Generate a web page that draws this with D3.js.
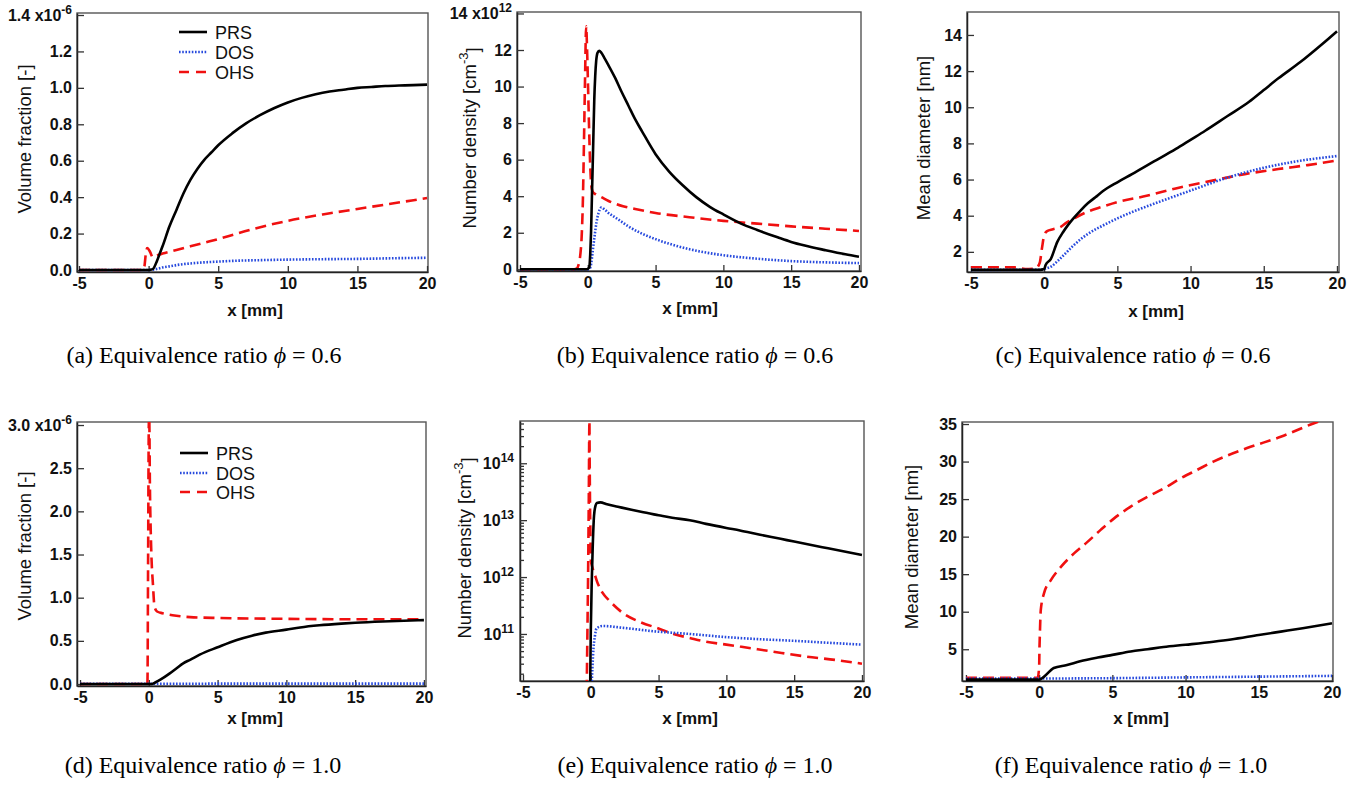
<!DOCTYPE html>
<html><head><meta charset="utf-8">
<script src="https://cdn.jsdelivr.net/npm/d3@7"></script>
<style>body{margin:0;background:#fff}svg{display:block}</style>
</head><body><svg id="c" width="1367" height="785"></svg>
<script>
// ---------------- data ----------------
const seriesNames = ["PRS", "DOS", "OHS"];
const xTicks = [-5, 0, 5, 10, 15, 20];

// (a) volume fraction, phi = 0.6  (x1e-6)
const a_PRS = [[-5,0],[0,0],[0.3,0.005],[0.6,0.05],[0.8,0.09],[1.0,0.13],[1.5,0.24],[2,0.33],[2.5,0.42],[3,0.495],[3.5,0.555],[4,0.605],[4.5,0.645],[5,0.685],[6,0.75],[7,0.805],[8,0.85],[9,0.888],[10,0.92],[11,0.945],[12,0.965],[13,0.98],[14,0.99],[15,1.0],[16,1.005],[17,1.01],[18,1.013],[19,1.015],[20,1.018]];
const a_DOS = [[-5,0],[0,0],[0.3,0.002],[0.7,0.008],[1,0.014],[1.5,0.02],[2,0.027],[3,0.036],[4,0.042],[5,0.046],[6,0.05],[8,0.054],[10,0.057],[12,0.059],[15,0.061],[18,0.065],[20,0.067]];
const a_OHS = [[-5,0],[-0.4,0],[-0.3,0.02],[-0.2,0.09],[-0.1,0.12],[0.1,0.1],[0.3,0.07],[0.6,0.08],[1,0.09],[2,0.11],[3,0.13],[4,0.15],[5,0.17],[7.5,0.225],[10,0.27],[12.5,0.305],[15,0.335],[17.5,0.365],[20,0.395]];
const a_yTicks = [0, 0.2, 0.4, 0.6, 0.8, 1.0, 1.2, 1.4];

// (b) number density, phi = 0.6 (x1e12 cm^-3)
const b_PRS = [[-5,0],[-0.1,0],[0.05,0.05],[0.12,0.15],[0.18,0.8],[0.24,2.0],[0.3,3.8],[0.36,5.6],[0.42,7.5],[0.48,9.3],[0.55,10.6],[0.62,11.4],[0.72,11.85],[0.84,11.96],[1.0,11.85],[1.2,11.6],[1.5,11.2],[2,10.5],[2.5,9.7],[3,8.95],[3.5,8.2],[4,7.55],[5,6.3],[6,5.35],[7,4.6],[8,3.95],[9,3.42],[10,3.0],[11.3,2.5],[12.5,2.15],[14,1.75],[15,1.5],[16,1.3],[17.5,1.05],[19,0.82],[20,0.69]];
const b_DOS = [[-5,0],[0.05,0],[0.15,0.05],[0.25,0.3],[0.35,0.9],[0.5,1.8],[0.65,2.6],[0.8,3.1],[1.0,3.38],[1.2,3.3],[1.5,3.1],[2,2.85],[2.5,2.6],[3,2.35],[4,1.95],[5,1.65],[6,1.4],[7.5,1.1],[9,0.88],[10,0.77],[12.5,0.58],[15,0.45],[17.5,0.38],[20,0.34]];
const b_OHS = [[-5,0],[-1,0],[-0.8,0.05],[-0.7,0.2],[-0.55,0.8],[-0.45,1.8],[-0.36,3.8],[-0.28,7],[-0.2,10.5],[-0.12,13.3],[-0.05,12],[0.02,10],[0.08,8.2],[0.15,6.3],[0.22,5.0],[0.3,4.4],[0.4,4.2],[0.6,4.1],[1,3.95],[1.5,3.75],[2,3.6],[2.6,3.45],[3.5,3.3],[5,3.08],[7.5,2.85],[10,2.65],[12.5,2.5],[15,2.35],[17.5,2.22],[20,2.1]];
const b_yTicks = [0, 2, 4, 6, 8, 10, 12, 14];

// (c) mean diameter, phi = 0.6 (nm)
const c_PRS = [[-5,1.0],[-0.3,1.0],[0,1.05],[0.1,1.27],[0.45,1.6],[0.9,2.55],[1.3,3.1],[1.6,3.45],[2,3.85],[2.5,4.3],[3,4.7],[3.5,5.02],[4,5.35],[5,5.85],[6,6.3],[7.5,7.0],[9,7.7],[10,8.2],[11,8.7],[12.5,9.5],[14,10.3],[15,10.95],[16,11.6],[17.5,12.5],[19,13.5],[20,14.2]];
const c_DOS = [[-5,1.0],[-0.3,1.0],[0,1.05],[0.5,1.2],[1,1.55],[1.5,1.95],[2,2.35],[2.5,2.7],[3,3.0],[4,3.45],[5,3.85],[6,4.2],[7.5,4.66],[9,5.1],[10,5.39],[12.5,6.1],[15,6.65],[17.5,7.04],[20,7.3]];
const c_OHS = [[-5,1.15],[-2,1.14],[-1.3,1.05],[-0.6,1.07],[-0.3,1.4],[-0.15,2.2],[0,2.9],[0.2,3.15],[0.6,3.25],[1.1,3.37],[1.5,3.6],[2,3.83],[2.9,4.2],[4,4.5],[5,4.75],[7,5.1],[9.2,5.55],[11.5,5.94],[13.7,6.3],[16,6.58],[18,6.8],[20,7.05]];
const c_yTicks = [2, 4, 6, 8, 10, 12, 14];

// (d) volume fraction, phi = 1.0 (x1e-6)
const d_PRS = [[-5,0],[0.2,0],[0.5,0.02],[0.84,0.05],[1.5,0.12],[2,0.18],[2.5,0.24],[3,0.28],[3.7,0.34],[5,0.425],[6.4,0.51],[7.5,0.56],[8.5,0.595],[10,0.63],[11,0.655],[12.4,0.68],[14,0.7],[15,0.71],[17,0.725],[20,0.74]];
const d_DOS = [[-5,0.003],[0,0.003],[5,0.004],[10,0.004],[15,0.004],[20,0.004]];
const d_OHS = [[-5,0],[-0.1,0],[-0.05,1.5],[0.0,3.0],[0.03,3.1],[0.08,2.3],[0.17,1.59],[0.31,1.13],[0.41,0.9],[0.6,0.84],[1,0.82],[2,0.79],[3,0.775],[5,0.765],[10,0.755],[15,0.75],[20,0.75]];
const d_yTicks = [0, 0.5, 1.0, 1.5, 2.0, 2.5, 3.0];

// (e) number density, phi = 1.0 (cm^-3, log)
const e_PRS = [[-0.05,1e10],[0.0,1.1e11],[0.07,8e11],[0.14,3.2e12],[0.24,1.2e13],[0.35,1.8e13],[0.45,2e13],[0.7,2.05e13],[1.2,1.9e13],[2,1.72e13],[3,1.52e13],[3.7,1.4e13],[5,1.22e13],[6,1.1e13],[7.3,1e13],[8.5,8.6e12],[10,7.3e12],[11,6.6e12],[12.4,5.6e12],[14,4.7e12],[15,4.2e12],[17.5,3.2e12],[20,2.45e12]];
const e_DOS = [[0.05,1e10],[0.12,2.5e10],[0.2,5.6e10],[0.3,9e10],[0.43,1.26e11],[0.9,1.38e11],[2.4,1.28e11],[4.9,1.1e11],[7.3,1e11],[10,8.8e10],[12.4,8.1e10],[14.9,7.6e10],[17.5,7e10],[20,6.5e10]];
const e_OHS = [[-0.3,1e10],[-0.25,1e11],[-0.2,1e12],[-0.15,2e13],[-0.1,5.5e14],[-0.08,1e14],[-0.06,2.4e13],[-0.03,6.3e12],[0.0,2e12],[0.15,1.4e12],[0.3,1.1e12],[0.45,8.5e11],[0.68,6.3e11],[1.0,4.8e11],[1.3,4e11],[2.4,2.3e11],[3.7,1.6e11],[5,1.25e11],[6.1,1e11],[7.3,8.5e10],[8.5,7.3e10],[10,6.5e10],[11,6e10],[13.4,4.9e10],[15.9,4e10],[18,3.5e10],[20,3e10]];
const e_yMajor = [1e11, 1e12, 1e13, 1e14];

// (f) mean diameter, phi = 1.0 (nm)
const f_PRS = [[-5,0.95],[0,0.95],[0.34,1.36],[1.0,2.5],[1.9,2.9],[2.8,3.4],[4,3.9],[5,4.25],[6.25,4.7],[7.4,5.0],[8.5,5.3],[10,5.6],[11.9,6.0],[13.1,6.3],[15,6.9],[16.5,7.35],[18,7.8],[20,8.46]];
const f_DOS = [[-5,1.1],[0,1.1],[5,1.15],[10,1.25],[15,1.35],[20,1.45]];
const f_OHS = [[-5,1.2],[-0.1,1.2],[0,2.7],[0.02,5],[0.05,7.1],[0.11,10.2],[0.34,12.5],[0.8,14.2],[1.5,16],[2.4,17.8],[3.3,19.3],[4.2,20.9],[5.1,22.4],[6.25,24],[7.4,25.3],[8.5,26.4],[9.7,27.8],[10.8,28.9],[11.9,30.0],[14.2,31.8],[16.5,33.3],[18.5,34.9],[20,36.0]];
const f_yTicks = [5, 10, 15, 20, 25, 30, 35];

const captions = ["(a) Equivalence ratio ", "(b) Equivalence ratio ", "(c) Equivalence ratio ",
                  "(d) Equivalence ratio ", "(e) Equivalence ratio ", "(f) Equivalence ratio "];
const phiValues = ["0.6", "0.6", "0.6", "1.0", "1.0", "1.0"];

// ---------------- layout / style ----------------
const styles = {
  PRS: {color: "#000", dash: null, w: 2.6},
  DOS: {color: "#2649dd", dash: "1.6,1.6", w: 2.6},
  OHS: {color: "#f01010", dash: "11,6", w: 2.6}
};
const TICKF = "Liberation Sans, Arial, Helvetica, sans-serif";
const hyphen = f => (d => f(d).replace("\u2212", "-"));

const panels = [
  {data:{PRS:a_PRS,DOS:a_DOS,OHS:a_OHS}, box:{l:77,t:13,r:428,b:272}, xd:[-5.144,20.07], yd:[-0.011,1.411], log:false, yTicks:a_yTicks, fmt:".1f", exp:"-6",
   ylab:["Volume fraction [-]"], yl:[31,139], xl:[255,316], legend:{x1:179,x2:207,ys:[32,52,72],tx:215}, cap:[204,363]},
  {data:{PRS:b_PRS,DOS:b_DOS,OHS:b_OHS}, box:{l:517,t:12,r:861,b:271}, xd:[-5.22,20.15], yd:[-0.093,14.08], log:false, yTicks:b_yTicks, fmt:"d", exp:"12",
   ylab:["Number density [cm","-3","]"], yl:[476,138], xl:[690,314], cap:[695,363]},
  {data:{PRS:c_PRS,DOS:c_DOS,OHS:c_OHS}, box:{l:967,t:12,r:1339,b:272}, xd:[-5.27,20.14], yd:[0.885,15.27], log:false, yTicks:c_yTicks, fmt:"d", exp:null,
   ylab:["Mean diameter [nm]"], yl:[930,138], xl:[1156,317], cap:[1133,363]},
  {data:{PRS:d_PRS,DOS:d_DOS,OHS:d_OHS}, box:{l:77,t:422,r:426,b:686}, xd:[-5.22,20.15], yd:[-0.023,3.035], log:false, yTicks:d_yTicks, fmt:".1f", exp:"-6",
   ylab:["Volume fraction [-]"], yl:[31,546], xl:[255,724], legend:{x1:180,x2:208,ys:[453,473,492],tx:216}, cap:[203,773]},
  {data:{PRS:e_PRS,DOS:e_DOS,OHS:e_OHS}, box:{l:520,t:421,r:864,b:681}, xd:[-5.22,20.15], yd:[1.49e10,5.53e14], log:true, yTicks:e_yMajor, fmt:null, exp:null,
   ylab:["Number density [cm","-3","]"], yl:[471,548], xl:[690,724], cap:[695,773]},
  {data:{PRS:f_PRS,DOS:f_DOS,OHS:f_OHS}, box:{l:962,t:422,r:1333,b:681}, xd:[-5.27,20.07], yd:[0.77,35.27], log:false, yTicks:f_yTicks, fmt:"d", exp:null,
   ylab:["Mean diameter [nm]"], yl:[918,547], xl:[1141,724], cap:[1131,773]}
];

const svg = d3.select("#c");

panels.forEach((p, i) => {
  const B = p.box;
  const x = d3.scaleLinear().domain(p.xd).range([B.l, B.r]);
  const y = (p.log ? d3.scaleLog() : d3.scaleLinear()).domain(p.yd).range([B.b, B.t]);
  const g = svg.append("g");

  const clipId = "clip" + i;
  svg.append("clipPath").attr("id", clipId).append("rect")
    .attr("x", B.l).attr("y", B.t).attr("width", B.r - B.l).attr("height", B.b - B.t);

  // frame
  g.append("rect").attr("x", B.l).attr("y", B.t).attr("width", B.r - B.l).attr("height", B.b - B.t)
    .attr("fill", "none").attr("stroke", "#555").attr("stroke-width", 1.4);

  // x axis
  const xa = g.append("g").attr("transform", `translate(0,${B.b})`)
    .call(d3.axisBottom(x).tickValues(xTicks).tickSize(-6).tickSizeOuter(0).tickPadding(6).tickFormat(hyphen(d3.format("d"))));
  xa.select(".domain").attr("stroke", "#222").attr("stroke-width", 1.5);
  xa.selectAll(".tick line").attr("stroke", "#333").attr("stroke-width", 1.3);
  xa.selectAll("text").attr("font-family", TICKF).attr("font-size", 16).attr("font-weight", "bold").attr("fill", "#111");

  // y axis
  let ya;
  if (p.log) {
    const all = [];
    for (let e = 10; e <= 14; e++) for (let m = 1; m <= 9; m++) {
      const v = m * Math.pow(10, e);
      if (v >= p.yd[0] && v <= p.yd[1]) all.push(v);
    }
    ya = g.append("g").attr("transform", `translate(${B.l},0)`)
      .call(d3.axisLeft(y).tickValues(all).tickSize(-7).tickSizeOuter(0).tickPadding(6).tickFormat(""));
    ya.selectAll(".tick").each(function(d) {
      const major = p.yTicks.some(v => Math.abs(v - d) / v < 1e-6);
      const t = d3.select(this);
      if (!major) t.select("line").attr("x2", 4);
      else {
        const txt = t.select("text").text(null).attr("dy", "0.32em");
        txt.append("tspan").text("10");
        txt.append("tspan").attr("dy", "-0.55em").attr("font-size", 12).text(Math.round(Math.log10(d)));
      }
    });
  } else {
    ya = g.append("g").attr("transform", `translate(${B.l},0)`)
      .call(d3.axisLeft(y).tickValues(p.yTicks).tickSize(-7).tickSizeOuter(0).tickPadding(5).tickFormat(hyphen(d3.format(p.fmt))));
    if (p.exp) {
      const top = p.yTicks[p.yTicks.length - 1];
      ya.selectAll(".tick").filter(d => d === top).select("text").each(function(d) {
        const t = d3.select(this);
        const base = t.text();
        t.text(null);
        t.append("tspan").text(base + " x10");
        t.append("tspan").attr("dy", "-0.55em").attr("font-size", 12).text(p.exp);
      });
    }
  }
  ya.select(".domain").attr("stroke", "#222").attr("stroke-width", 1.5);
  ya.selectAll(".tick line").attr("stroke", "#333").attr("stroke-width", 1.3);
  ya.selectAll("text").attr("font-family", TICKF).attr("font-size", 16).attr("font-weight", "bold").attr("fill", "#111");

  // curves
  const line = d3.line().x(d => x(d[0])).y(d => y(d[1])).curve(d3.curveMonotoneX);
  const lg = svg.append("g").attr("clip-path", `url(#${clipId})`);
  ["OHS", "DOS", "PRS"].forEach(k => {
    const s = styles[k];
    lg.append("path").datum(p.data[k]).attr("d", line)
      .attr("fill", "none").attr("stroke", s.color).attr("stroke-width", s.w)
      .attr("stroke-dasharray", s.dash).attr("stroke-linejoin", "round");
  });

  // axis titles
  svg.append("text").attr("x", p.xl[0]).attr("y", p.xl[1]).attr("text-anchor", "middle")
    .attr("font-family", TICKF).attr("font-size", 17).attr("font-weight", "bold").attr("fill", "#111").text("x [mm]");
  const yt = svg.append("text").attr("transform", `translate(${p.yl[0]},${p.yl[1]}) rotate(-90)`)
    .attr("text-anchor", "middle").attr("font-family", TICKF).attr("font-size", 18.5).attr("fill", "#111");
  yt.append("tspan").text(p.ylab[0]);
  if (p.ylab.length > 1) {
    yt.append("tspan").attr("dy", "-0.6em").attr("font-size", 13).text(p.ylab[1]);
    yt.append("tspan").attr("dy", "0.6em").text(p.ylab[2]);
  }

  // legend
  if (p.legend) {
    const L = p.legend;
    seriesNames.forEach((k, j) => {
      const s = styles[k];
      svg.append("line").attr("x1", L.x1).attr("x2", L.x2).attr("y1", L.ys[j]).attr("y2", L.ys[j])
        .attr("stroke", s.color).attr("stroke-width", s.w).attr("stroke-dasharray", k === "OHS" ? "10,7" : s.dash);
      svg.append("text").attr("x", L.tx).attr("y", L.ys[j] + 6.5).attr("font-family", TICKF)
        .attr("font-size", 18).attr("fill", "#111").text(k);
    });
  }

  // caption
  const ct = svg.append("text").attr("x", p.cap[0]).attr("y", p.cap[1]).attr("text-anchor", "middle")
    .attr("font-family", "Liberation Serif, Times New Roman, serif").attr("font-size", 24).attr("fill", "#000");
  ct.append("tspan").text(captions[i]);
  ct.append("tspan").attr("font-style", "italic").text("\u03D5");
  ct.append("tspan").text(" = " + phiValues[i]);
});
</script>
</body></html>
